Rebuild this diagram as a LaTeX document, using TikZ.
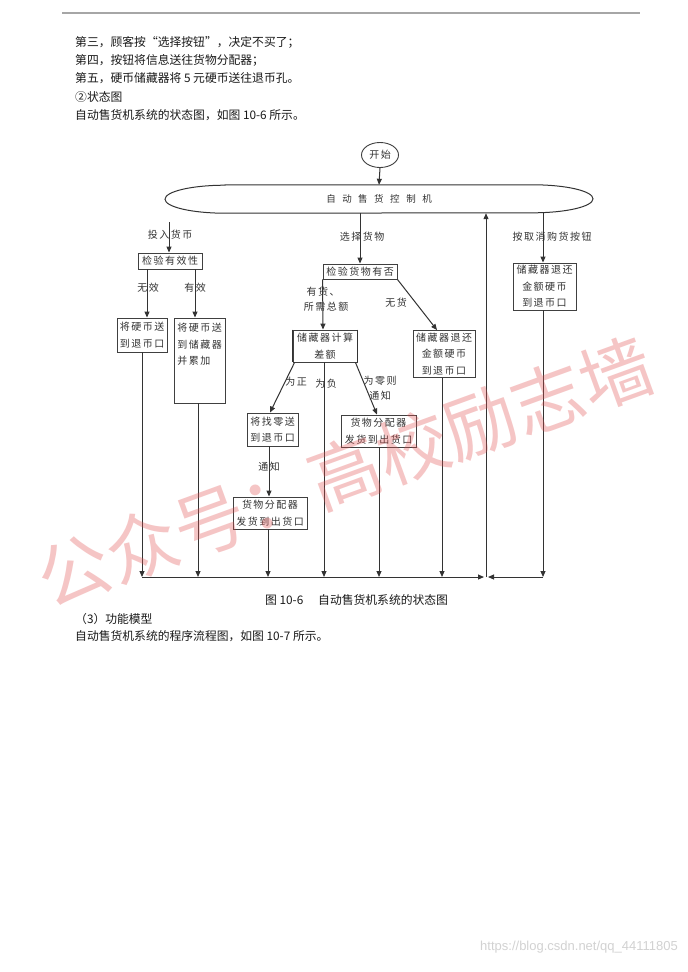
\documentclass[tikz,border=0pt]{standalone}
\usepackage{fontspec}
\setmainfont{Noto Sans CJK SC}
\newfontfamily\cjk{Noto Sans CJK SC}
\newfontfamily\dcjk[LetterSpace=15]{Noto Sans CJK SC}
\newfontfamily\urlfont{Liberation Sans}
\usetikzlibrary{arrows.meta,shapes.geometric}
\definecolor{wmred}{RGB}{225,80,80}
\begin{document}
\begin{tikzpicture}[x=1pt,y=-1pt,
  ln/.style={draw=black!80, line width=1pt},
  arr/.style={ln, -{Triangle[length=6pt,width=5pt]}},
  box/.style={draw=black!75, line width=0.9pt, align=center, inner sep=0pt,
    font=\dcjk\fontsize{10}{16.5}\selectfont, text=black!80},
  lbl/.style={inner sep=0pt, font=\dcjk\fontsize{10}{14}\selectfont, text=black!80},
  body/.style={anchor=west, inner sep=0pt, font=\cjk\fontsize{11.8}{14}\selectfont, text=black!90}
]
\useasboundingbox (0,0) rectangle (688,972);
\fill[white] (0,0) rectangle (688,972);

% header rule
\draw[gray!70, line width=1.2pt] (62,13) -- (640,13);

% body text
\node[body] (t1) at (75,42) {第三，顾客按“选择按钮”，决定不买了；};
\node[body] (t2) at (75,60) {第四，按钮将信息送往货物分配器；};
\node[body] (t3) at (75,78) {第五，硬币储藏器将 5 元硬币送往退币孔。};
\node[body] (t4) at (75,97) {②状态图};
\node[body] (t5) at (75,115) {自动售货机系统的状态图，如图 10-6 所示。};
\node[body] (cap1) at (265,600) {图 10-6};
\node[body] (cap2) at (318,600) {自动售货机系统的状态图};
\node[body] (t6) at (75,619) {（3）功能模型};
\node[body] (t7) at (75,636) {自动售货机系统的程序流程图，如图 10-7 所示。};

% start and controller
\node[draw=black!75, line width=0.9pt, ellipse, minimum width=37pt, minimum height=25pt,
  inner sep=0pt, font=\dcjk\fontsize{10}{12}\selectfont, text=black!80] (start) at (380,155) {开始};
\node[inner sep=0pt, minimum width=428pt, minimum height=28pt,
  font=\dcjk\fontsize{9.5}{12}\selectfont, text=black!80] (ctrl) at (379,199)
  {自\hspace{6.5pt}动\hspace{6.5pt}售\hspace{6.5pt}货\hspace{6.5pt}控\hspace{6.5pt}制\hspace{6.5pt}机};
\draw[ln] ([xshift=-154pt]ctrl.north) -- ([xshift=154pt]ctrl.north)
  arc[start angle=90,end angle=-90,x radius=60pt,y radius=14pt]
  -- ([xshift=-154pt]ctrl.south)
  arc[start angle=270,end angle=90,x radius=60pt,y radius=14pt] -- cycle;

% boxes
\node[box, minimum width=64pt, minimum height=16pt] (chk) at (170,261) {检验有效性};
\node[box, minimum width=50pt, minimum height=34pt] (inv) at (142,335) {将硬币送\\到退币口};
\node[box, minimum width=51pt, minimum height=85pt, align=left] (val) at (199.5,360.5)
  {将硬币送\\到储藏器\\并累加\\\mbox{}\\\mbox{}};
\node[box, minimum width=74pt, minimum height=15pt] (goods) at (360,271.5) {检验货物有否};
\node[box, minimum width=62pt, minimum height=47pt] (ret) at (444,354) {储藏器退还\\金额硬币\\到退币口};
\node[box, minimum width=64pt, minimum height=32pt] (calc) at (325,346) {储藏器计算\\差额};
\draw[black!80, line width=1.8pt] (calc.north west) -- (calc.south west)
  (calc.north east) -- (calc.south east);
\node[box, minimum width=51pt, minimum height=33pt] (change) at (272.5,429.5) {将找零送\\到退币口};
\node[box, minimum width=74pt, minimum height=32pt] (disp2) at (270,513) {货物分配器\\发货到出货口};
\node[box, minimum width=75pt, minimum height=32pt] (disp1) at (378.5,431) {货物分配器\\发货到出货口};
\node[box, minimum width=63pt, minimum height=47pt] (cancel) at (544.5,286.5) {储藏器退还\\金额硬币\\到退币口};

% bottom collector coordinates
\coordinate (b1) at (142,577);
\coordinate (b2) at (198,577);
\coordinate (b3) at (268,577);
\coordinate (b4) at (324,577);
\coordinate (b5) at (379,577);
\coordinate (b6) at (442,577);
\coordinate (b7) at (543,577);
\coordinate (bl) at (484,577);
\coordinate (br) at (488,577);
\coordinate (bu) at (486,577);

% connectors
\draw[arr] (start.south) -- (ctrl.north);
\draw[arr] ([xshift=-210pt,yshift=-9pt]ctrl.south) -- ([xshift=-1pt]chk.north);
\draw[arr] ([xshift=-19pt]ctrl.south) -- (goods.north);
\draw[arr] ([xshift=164pt]ctrl.south) -- ([xshift=-1.5pt]cancel.north);
\draw[arr] ([xshift=-23pt]chk.south) -- ([xshift=5pt]inv.north);
\draw[arr] ([xshift=25pt]chk.south) -- ([xshift=-4.5pt]val.north);
\draw[arr] (goods.south west) -- ([xshift=-2pt]calc.north);
\draw[arr] (goods.south east) -- ([xshift=-7pt]ret.north);
\draw[arr] ([xshift=2pt]calc.south west) -- ([xshift=-2.5pt]change.north);
\draw[arr] ([xshift=-2pt]calc.south east) -- ([xshift=-1.5pt]disp1.north);
\draw[arr] ([xshift=-3.5pt]change.south) -- ([xshift=-1pt]disp2.north);
\draw[arr] (inv.south) -- (b1);
\draw[arr] ([xshift=-1.5pt]val.south) -- (b2);
\draw[arr] ([xshift=-2pt]disp2.south) -- (b3);
\draw[arr] ([xshift=-1pt]calc.south) -- (b4);
\draw[arr] ([xshift=0.5pt]disp1.south) -- (b5);
\draw[arr] ([xshift=-2pt]ret.south) -- (b6);
\draw[arr] ([xshift=-1.5pt]cancel.south) -- (b7);
\draw[arr] (b1) -- (bl);
\draw[arr] (b7) -- (br);
\draw[arr] (bu) -- ([xshift=107pt]ctrl.south);

% labels
\node[lbl] (l1) at (170,235) {投入货币};
\node[lbl] (l2) at (362,237) {选择货物};
\node[lbl] (l3) at (552,237) {按取消购货按钮};
\node[lbl] (l4) at (148,288) {无效};
\node[lbl] (l5) at (195,288) {有效};
\node[lbl] (l6) at (323,292) {有货、};
\node[lbl] (l7) at (326,307) {所需总额};
\node[lbl] (l8) at (396,303) {无货};
\node[lbl] (l9) at (296,382) {为正};
\node[lbl] (l10) at (326,384) {为负};
\node[lbl] (l11) at (380,381) {为零则};
\node[lbl] (l12) at (380,396) {通知};
\node[lbl] (l13) at (269,467) {通知};

% watermarks
\node[font=\cjk\fontsize{72}{72}\selectfont, text=wmred, opacity=0.33, rotate=20, inner sep=0pt]
  (wm) at (345,472) {公众号：高校励志墙};
\node[font=\urlfont\fontsize{13}{13}\selectfont, text=gray!35, anchor=east, inner sep=0pt]
  (csdn) at (678,947) {https://blog.csdn.net/qq\_44111805};
\end{tikzpicture}
\end{document}
